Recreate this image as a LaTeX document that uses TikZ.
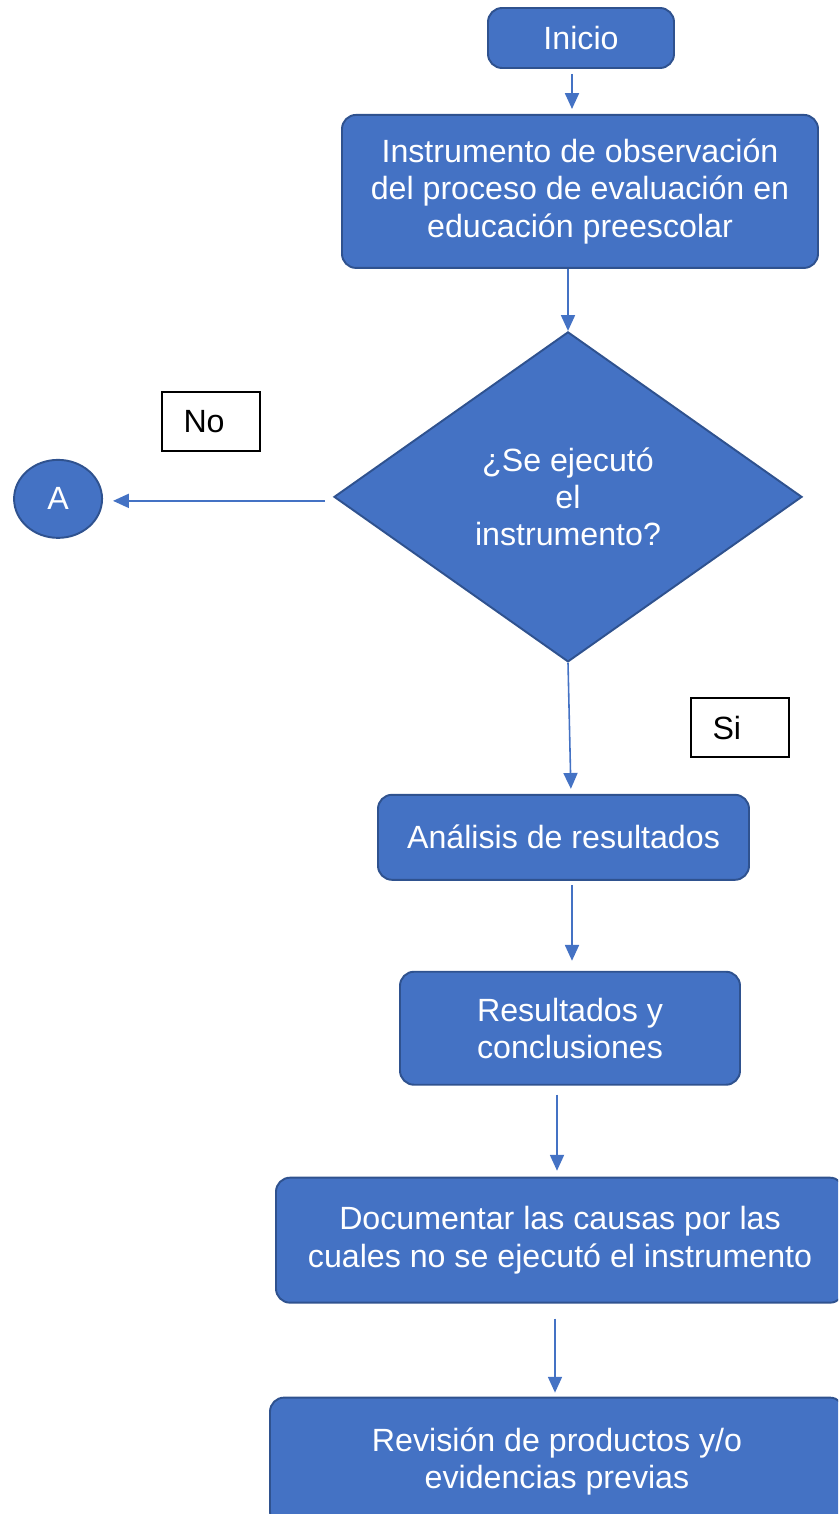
\documentclass[tikz,border=0pt]{standalone}
\usepackage{fontspec}
\setmainfont{Liberation Sans}
\usepackage{tikz}
\usetikzlibrary{shapes.geometric,arrows.meta,positioning,calc}
\definecolor{boxblue}{HTML}{4472C4}
\definecolor{edgeblue}{HTML}{2F528F}
\newcommand{\flowfont}{\fontsize{18.3}{21.3}\selectfont}

\begin{document}
\begin{tikzpicture}[
        box/.style={draw=edgeblue, fill=boxblue, line width=1.1pt, rounded corners=8pt, text=white, align=center, inner sep=0pt, font=\flowfont},
        decision/.style={diamond, draw=edgeblue, fill=boxblue, line width=1.1pt, text=white, align=center, inner sep=0pt, aspect=1.42, font=\flowfont},
        connector/.style={ellipse, draw=edgeblue, fill=boxblue, line width=1.1pt, text=white, inner sep=0pt, font=\flowfont},
        lblbox/.style={draw=black, line width=0.6pt, fill=white, minimum height=1.18cm, text width=1.1cm, inner xsep=0.43cm, align=left, font=\flowfont},
        arrow/.style={-{Triangle[width=8pt,length=9pt]}, draw=boxblue, line width=0.9pt}
    ]
        \useasboundingbox (0,0) rectangle (16.76,-30.28);
        \clip (0,0) rectangle (16.76,-30.28);

        % Main flow
        \node[box, minimum width=3.72cm, minimum height=1.2cm] (inicio) at (11.62,-0.76) {Inicio};
        \node[box, minimum width=9.52cm, minimum height=3.06cm, below=0.9cm of inicio, xshift=-0.2mm] (instr) {Instrumento de observación\\del proceso de evaluación en\\educación preescolar};
        \node[decision, minimum width=9.36cm, minimum height=6.6cm, below=1.24cm of instr, xshift=-2.4mm] (dec) {¿Se ejecutó\\el\\instrumento?};
        \node[box, minimum width=7.42cm, minimum height=1.7cm, below=2.62cm of dec, xshift=-0.9mm] (anal) {Análisis de resultados};
        \node[box, minimum width=6.8cm, minimum height=2.26cm, below=1.8cm of anal, xshift=1.3mm] (result) {Resultados y\\conclusiones};
        \node[box, minimum width=11.36cm, minimum height=2.5cm, below=1.82cm of result, xshift=-2mm] (docu) {Documentar las causas por las\\cuales no se ejecutó el instrumento};
        \node[box, minimum width=11.48cm, minimum height=2.56cm, below=1.86cm of docu, xshift=-0.6mm] (rev) {Revisión de productos y/o\\evidencias previas};

        % Branch to connector A
        \node[connector, minimum width=1.76cm, minimum height=1.56cm, left=4.6cm of dec, yshift=-0.4mm] (a) {A};
        \node[lblbox] (no) at (4.22,-8.43) {No};
        \node[lblbox] (si) at (14.80,-14.55) {Si};

        % Arrows
        \draw[arrow, shorten <=1mm, shorten >=1mm] ($(inicio.south)+(-0.18,0)$) -- ($(inicio.south |- instr.north)+(-0.18,0)$);
        \draw[arrow] (instr.south -| dec.north) -- (dec.north);
        \draw[arrow, shorten >=1mm] (dec.south) -- ($(dec.south |- anal.north)+(0.06,0)$);
        \draw[arrow, shorten <=0.8mm, shorten >=2mm] ($(anal.south)+(0.17,0)$) -- ($(anal.south |- result.north)+(0.17,0)$);
        \draw[arrow, shorten <=1.8mm, shorten >=1.2mm] ($(result.south)+(-0.26,0)$) -- ($(result.south |- docu.north)+(-0.26,0)$);
        \draw[arrow, shorten <=3mm, shorten >=0.8mm] ($(docu.south)+(-0.1,0)$) -- ($(docu.south |- rev.north)+(-0.1,0)$);
        \draw[arrow, shorten <=1.6mm, shorten >=2mm] ($(dec.west)+(0,-0.08)$) -- ($(dec.west -| a.east)+(0,-0.08)$);
    \end{tikzpicture}
\end{document}
